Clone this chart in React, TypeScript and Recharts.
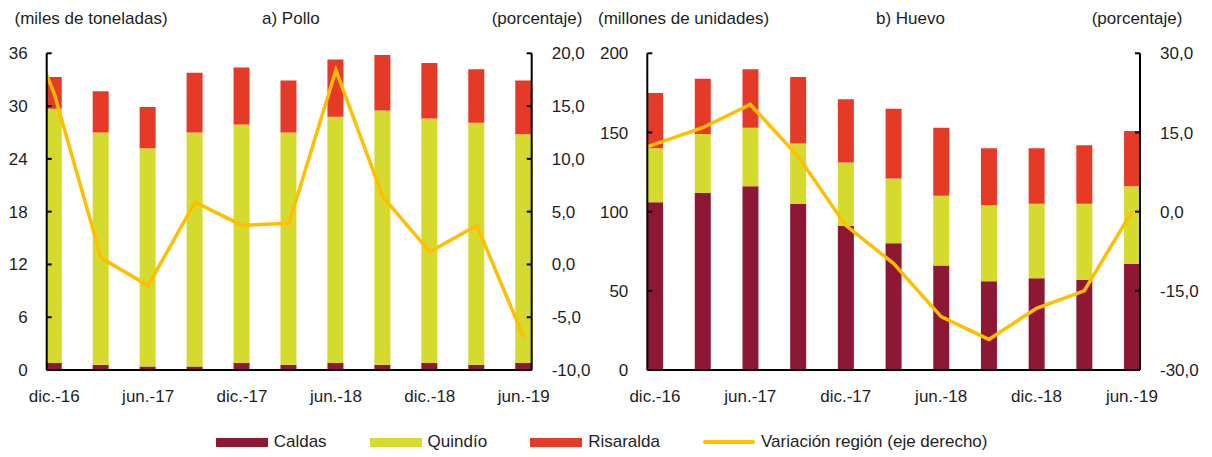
import React from 'react';
import { ComposedChart, Bar, Line, XAxis, YAxis } from 'recharts';

// trimestres (dic.-16 ... jun.-19)
const categories = ['dic.-16', 'mar.-17', 'jun.-17', 'sep.-17', 'dic.-17', 'mar.-18', 'jun.-18', 'sep.-18', 'dic.-18', 'mar.-19', 'jun.-19'];
const labelTicks = [0, 2, 4, 6, 8, 10];
// the variation line starts one quarter earlier (sep.-16), cut at the axis
const lineIndex = [-1, 0, 1, 2, 3, 4, 5, 6, 7, 8, 9, 10];

// a) Pollo (miles de toneladas)
const polloCaldas = [0.8, 0.6, 0.4, 0.4, 0.8, 0.6, 0.8, 0.6, 0.8, 0.6, 0.8];
const polloQuindio = [28.9, 26.4, 24.8, 26.6, 27.1, 26.4, 28.0, 28.9, 27.8, 27.5, 26.0];
const polloRisaralda = [3.6, 4.7, 4.7, 6.8, 6.5, 5.9, 6.5, 6.3, 6.3, 6.1, 6.1];
const polloVariacion = [27, 16.2, 0.6, -2.0, 5.9, 3.7, 3.9, 18.4, 6.4, 1.2, 3.7, -6.9];
const polloLeftTicks = [0, 6, 12, 18, 24, 30, 36];
const polloRightTicks = [-10, -5, 0, 5, 10, 15, 20];

// b) Huevo (millones de unidades)
const huevoCaldas = [106, 112, 116, 105, 91, 80, 66, 56, 58, 57, 67];
const huevoQuindio = [34, 37, 37, 38, 40, 41, 44, 48, 47, 48, 49];
const huevoRisaralda = [35, 35, 37, 42, 40, 44, 43, 36, 35, 37, 35];
const huevoVariacion = [9.7, 12.8, 15.9, 20.3, 10.5, -2.6, -9.8, -19.9, -24.2, -18.3, -15.0, 0.0];
const huevoLeftTicks = [0, 50, 100, 150, 200];
const huevoRightTicks = [-30, -15, 0, 15, 30];

const COLORS = {
  caldas: '#8E1734',
  quindio: '#D5DA2F',
  risaralda: '#E63A29',
  linea: '#FFBE00',
  text: '#1e1e1e',
};

const FONT = "'Liberation Sans', Arial, sans-serif";
const FS = 17;

const fmtPct = (v: number) => v.toFixed(1).replace('.', ',');

const buildBars = (c: number[], q: number[], r: number[]) =>
  categories.map((name, i) => ({ i, name, caldas: c[i], quindio: q[i], risaralda: r[i] }));

const buildLine = (v: number[]) => lineIndex.map((i, k) => ({ i, variacion: v[k] }));

interface PanelProps {
  left: number;
  width: number;
  marginLeft: number;
  marginRight: number;
  bars: any[];
  line: any[];
  leftTicks: number[];
  rightTicks: number[];
}

const Panel: React.FC<PanelProps> = ({ left, width, marginLeft, marginRight, bars, line, leftTicks, rightTicks }) => {
  const tickStyle = { fontSize: FS, fill: COLORS.text, fontFamily: FONT };
  const axisStroke = { stroke: '#000', strokeWidth: 2 };
  return (
    <div style={{ position: 'absolute', left, top: 0 }}>
      <ComposedChart
        width={width}
        height={420}
        data={bars}
        margin={{ top: 53.3, right: marginRight, bottom: 20, left: marginLeft }}
      >
        <XAxis
          type="number"
          dataKey="i"
          domain={[-0.16, 10.17]}
          allowDataOverflow
          ticks={labelTicks}
          interval={0}
          tickFormatter={(v: number) => categories[v] ?? ''}
          tick={tickStyle}
          tickLine={false}
          tickSize={0}
          tickMargin={20}
          height={30}
          axisLine={axisStroke}
        />
        <YAxis
          yAxisId="left"
          orientation="left"
          width={40}
          domain={[leftTicks[0], leftTicks[leftTicks.length - 1]]}
          allowDataOverflow
          ticks={leftTicks}
          interval={0}
          tick={tickStyle}
          tickSize={-5}
          tickMargin={24}
          tickLine={axisStroke}
          axisLine={axisStroke}
        />
        <YAxis
          yAxisId="right"
          orientation="right"
          width={60}
          domain={[rightTicks[0], rightTicks[rightTicks.length - 1]]}
          allowDataOverflow
          ticks={rightTicks}
          interval={0}
          tickFormatter={fmtPct}
          tick={tickStyle}
          tickSize={-5}
          tickMargin={25}
          tickLine={axisStroke}
          axisLine={axisStroke}
        />
        <Bar yAxisId="left" dataKey="caldas" stackId="a" fill={COLORS.caldas} barSize={16} isAnimationActive={false} />
        <Bar yAxisId="left" dataKey="quindio" stackId="a" fill={COLORS.quindio} barSize={16} isAnimationActive={false} />
        <Bar yAxisId="left" dataKey="risaralda" stackId="a" fill={COLORS.risaralda} barSize={16} isAnimationActive={false} />
        <Line
          yAxisId="right"
          data={line}
          dataKey="variacion"
          type="linear"
          stroke={COLORS.linea}
          strokeWidth={3.5}
          dot={false}
          activeDot={false}
          isAnimationActive={false}
        />
      </ComposedChart>
    </div>
  );
};

const Title: React.FC<{ left: number; children: React.ReactNode }> = ({ left, children }) => (
  <div
    style={{
      position: 'absolute',
      left,
      top: 9,
      fontSize: FS,
      lineHeight: '20px',
      fontFamily: FONT,
      color: COLORS.text,
      whiteSpace: 'nowrap',
    }}
  >
    {children}
  </div>
);

const legendItems = [
  { label: 'Caldas', color: COLORS.caldas, kind: 'box' },
  { label: 'Quindío', color: COLORS.quindio, kind: 'box' },
  { label: 'Risaralda', color: COLORS.risaralda, kind: 'box' },
  { label: 'Variación región (eje derecho)', color: COLORS.linea, kind: 'line' },
];

export default function App() {
  return (
    <div
      style={{
        position: 'absolute',
        left: 0,
        top: 0,
        width: 1212,
        height: 457,
        background: '#fff',
        fontFamily: FONT,
        overflow: 'hidden',
      }}
    >
      <Panel
        left={0}
        width={600}
        marginLeft={6.7}
        marginRight={8.3}
        bars={buildBars(polloCaldas, polloQuindio, polloRisaralda)}
        line={buildLine(polloVariacion)}
        leftTicks={polloLeftTicks}
        rightTicks={polloRightTicks}
      />
      <Panel
        left={600}
        width={612}
        marginLeft={7.3}
        marginRight={12}
        bars={buildBars(huevoCaldas, huevoQuindio, huevoRisaralda)}
        line={buildLine(huevoVariacion)}
        leftTicks={huevoLeftTicks}
        rightTicks={huevoRightTicks}
      />

      <Title left={14.5}>(miles de toneladas)</Title>
      <Title left={262}>a) Pollo</Title>
      <Title left={491.7}>(porcentaje)</Title>
      <Title left={598}>(millones de unidades)</Title>
      <Title left={876}>b) Huevo</Title>
      <Title left={1091.7}>(porcentaje)</Title>

      <div
        style={{
          position: 'absolute',
          left: 215.7,
          top: 432,
          height: 20,
          display: 'flex',
          alignItems: 'center',
          fontSize: FS,
          color: COLORS.text,
          whiteSpace: 'nowrap',
        }}
      >
        {legendItems.map((it, k) => (
          <div key={it.label} style={{ display: 'flex', alignItems: 'center', marginLeft: k === 0 ? 0 : 43 }}>
            <span
              style={{
                display: 'inline-block',
                width: 52,
                height: it.kind === 'box' ? 9 : 4,
                background: it.color,
                borderRadius: it.kind === 'line' ? 2 : 0,
                marginRight: 6,
              }}
            />
            <span>{it.label}</span>
          </div>
        ))}
      </div>
    </div>
  );
}
